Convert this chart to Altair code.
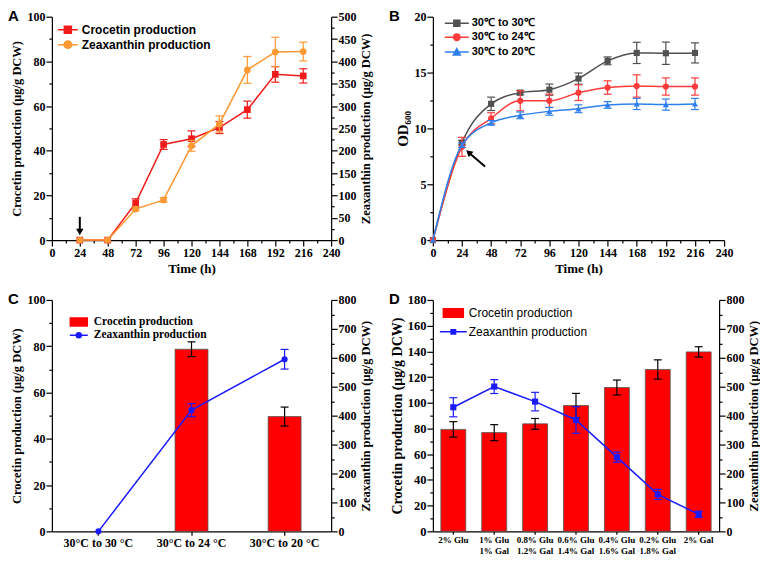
import altair as alt
import pandas as pd

SERIF = "Liberation Serif"
SANS = "Liberation Sans"

# ---------------- Panel A data ----------------
a_time = [24, 48, 72, 96, 120, 144, 168, 192, 216]
a_series = ["Crocetin production", "Zeaxanthin production"]
a_croc = [0, 0, 16.6, 42.8, 45.4, 50.4, 58.4, 74.2, 73.5]
a_croc_err = [0, 0, 1.9, 2.2, 3.5, 2.7, 3.8, 3.5, 3.2]
a_zea = [0, 0, 69.5, 90, 211, 260, 381, 421, 422]
a_zea_err = [0, 0, 4, 5, 12, 18, 30, 33, 21]
a_colors = ["#f01c1c", "#ff9933"]
a_arrow_x = [24]
a_arrow_top = [10.4]
a_arrow_end = [4.6]
a_arrow_head = [3.6]

# ---------------- Panel B data ----------------
b_time = [0, 24, 48, 72, 96, 120, 144, 168, 192, 216]
b_series = ["30℃ to 30℃", "30℃ to 24℃", "30℃ to 20℃"]
b_od30 = [0, 8.72, 12.2, 13.2, 13.47, 14.46, 16.05, 16.76, 16.73, 16.76]
b_od30_err = [0, 0.2, 0.6, 0.2, 0.5, 0.5, 0.35, 0.95, 1.0, 0.9]
b_od24 = [0, 8.35, 10.9, 12.47, 12.47, 13.2, 13.66, 13.8, 13.75, 13.75]
b_od24_err = [0, 0.85, 0.5, 0.9, 0.6, 0.7, 0.6, 1.0, 0.77, 0.77]
b_od20 = [0, 8.5, 10.5, 11.17, 11.53, 11.76, 12.1, 12.19, 12.13, 12.19]
b_od20_err = [0, 0.2, 0.2, 0.3, 0.35, 0.35, 0.3, 0.5, 0.5, 0.5]
b_colors = ["#505050", "#ff3b3b", "#2f80ed"]
b_arrow_x = [43]
b_arrow_y = [6.6]
b_arrow_x2 = [29.5]
b_arrow_y2 = [7.85]

# ---------------- Panel C data ----------------
c_cats = ["30°C to 30 °C", "30°C to 24 °C", "30°C to 20 °C"]
c_series = ["Crocetin production", "Zeaxanthin production"]
c_croc = [0, 78.7, 49.6]
c_croc_err = [0, 3.2, 4.1]
c_zea = [0, 419, 595]
c_zea_err = [0, 22.5, 34]

# ---------------- Panel D data ----------------
d_cats = ["2% Glu", "1% Glu|1% Gal", "0.8% Glu|1.2% Gal", "0.6% Glu|1.4% Gal",
          "0.4% Glu|1.6% Gal", "0.2% Glu|1.8% Gal", "2% Gal"]
d_series = ["Crocetin production", "Zeaxanthin production"]
d_croc = [79.3, 76.8, 83.6, 97.9, 111.9, 125.9, 139.6]
d_croc_err = [6, 6.2, 4.2, 9.4, 5.8, 7.5, 4]
d_zea = [429, 500.5, 448.6, 385, 256.5, 127.7, 58.8]
d_zea_err = [33, 24, 32, 46, 17.5, 17.5, 11]

BAR_RED = "#ff0000"
LINE_BLUE = "#1a1aff"


def line_sq(h, s):
    return f"M-{h},0H{h}M-{s},-{s}H{s}V{s}H-{s}Z"


def line_circ(h, r):
    return f"M-{h},0H{h}M-{r},0A{r},{r} 0 1,0 {r},0A{r},{r} 0 1,0 -{r},0Z"


def line_tri(h, s):
    return f"M-{h},0H{h}M0,-{s}L{s},{s * 0.8}H-{s}Z"


def rect_path(w, h):
    return f"M-{w},-{h}H{w}V{h}H-{w}Z"


def pick(names, vals):
    expr = f"'{vals[-1]}'"
    for n, v in reversed(list(zip(names[:-1], vals[:-1]))):
        expr = f"datum.value === '{n}' ? '{v}' : {expr}"
    return alt.ExprRef(expr=expr)


def make_legend(names, shapes, fills, x, y, font, weight, size, offset, rowpad, sw=1.5):
    return alt.Legend(
        title=None, orient="none", legendX=x, legendY=y, padding=0,
        symbolSize=100, labelFont=font, labelFontWeight=weight, labelFontSize=size,
        labelColor="black", labelOffset=offset, rowPadding=rowpad, labelLimit=400,
        symbolType=pick(names, shapes), symbolFillColor=pick(names, fills),
        symbolStrokeWidth=sw, symbolOpacity=1,
    )


def y_axis(title, top, major, minor, orient="left", title_size=12.5, label_size=12, title_pad=3):
    n = int(round(top / minor))
    vals = [round(i * minor, 3) for i in range(n + 1)]
    kw = dict(title=title, orient=orient, values=vals, tickCount=500, labelOverlap=False, labelFlush=False,
              format="d", labelExpr=f"datum.value % {major} === 0 ? datum.label : ''",
              tickSize={"condition": {"test": f"datum.value % {major} !== 0", "value": 3}, "value": 6},
              titleFontSize=title_size, labelFontSize=label_size, titlePadding=title_pad, labelPadding=1)
    if orient == "right":
        kw.update(titleAngle=270, titleBaseline="top")
    return alt.Axis(**kw)


def time_axis():
    return alt.Axis(title="Time (h)", values=list(range(0, 241, 12)), tickCount=500, labelOverlap=False,
                    labelFlush=False, format="d", labelExpr="datum.value % 24 === 0 ? datum.label : ''",
                    tickSize={"condition": {"test": "datum.value % 24 !== 0", "value": 3}, "value": 6},
                    titleFontSize=13, labelFontSize=12, titlePadding=4, labelPadding=1)


def panel_label(letter, dx, dy):
    return alt.Chart(pd.DataFrame({"lab": [letter]})).mark_text(
        font=SANS, fontWeight="bold", fontSize=15, align="left", baseline="top", color="black"
    ).encode(x=alt.value(dx), y=alt.value(dy), text="lab:N")


def err_layers(base, xenc_fn, ys, color, cap, sw=1.2):
    eb = base.transform_filter(alt.datum.err > 0)
    rule = eb.mark_rule(strokeWidth=sw, color=color).encode(
        x=xenc_fn(), y=alt.Y("lo:Q", scale=ys), y2="hi:Q")
    tlo = eb.mark_tick(orient="horizontal", size=cap, thickness=sw, color=color, opacity=1).encode(
        x=xenc_fn(), y=alt.Y("lo:Q", scale=ys))
    thi = eb.mark_tick(orient="horizontal", size=cap, thickness=sw, color=color, opacity=1).encode(
        x=xenc_fn(), y=alt.Y("hi:Q", scale=ys))
    return [rule, tlo, thi]


# ================= Panel A =================
dfa = pd.DataFrame({
    "time": a_time * 2,
    "value": a_croc + a_zea,
    "err": a_croc_err + a_zea_err,
    "series": [a_series[0]] * len(a_time) + [a_series[1]] * len(a_time),
})
dfa["lo"] = dfa["value"] - dfa["err"]
dfa["hi"] = dfa["value"] + dfa["err"]
leg_a = make_legend(a_series, [line_sq(2, 0.7), line_circ(2, 0.75)], a_colors,
                    10, 7, SANS, "bold", 12, 8, 1)
col_a = alt.Color("series:N", scale=alt.Scale(domain=a_series, range=a_colors), legend=leg_a)
xs_a = alt.Scale(domain=[0, 240], nice=False)


def a_group(idx, top, axis, shape, extra=None):
    name = a_series[idx]
    c = a_colors[idx]
    ys = alt.Scale(domain=[0, top], nice=False)
    base = alt.Chart(dfa).transform_filter(alt.datum.series == name)
    xf = lambda: alt.X("time:Q", scale=xs_a)
    line = base.mark_line(strokeWidth=1.5).encode(
        x=alt.X("time:Q", scale=xs_a, axis=time_axis()),
        y=alt.Y("value:Q", scale=ys, axis=axis), color=col_a)
    layers = [line] + err_layers(base, xf, ys, c, 8)
    pts = base.mark_point(filled=True, shape=shape, size=45, opacity=1, color=c).encode(
        x=xf(), y=alt.Y("value:Q", scale=ys))
    layers.append(pts)
    if extra is not None:
        layers += extra(ys)
    return alt.layer(*layers)


def a_arrow(ys):
    adf = pd.DataFrame({"time": a_arrow_x, "value": a_arrow_top, "value2": a_arrow_end, "head": a_arrow_head})
    r = alt.Chart(adf).mark_rule(strokeWidth=2, color="black").encode(
        x=alt.X("time:Q", scale=xs_a), y=alt.Y("value:Q", scale=ys), y2="value2:Q")
    h = alt.Chart(adf).mark_point(shape="triangle-down", filled=True, size=55, color="black", opacity=1).encode(
        x=alt.X("time:Q", scale=xs_a), y=alt.Y("head:Q", scale=ys))
    return [r, h]


panel_A = alt.layer(
    a_group(0, 100, y_axis("Crocetin production (μg/g DCW)", 100, 20, 10), "square", a_arrow),
    a_group(1, 500, y_axis("Zeaxanthin  production (μg/g DCW)", 500, 50, 25, "right"), "circle"),
    panel_label("A", -44, -8),
).resolve_scale(y="independent").properties(width=280, height=224)

# ================= Panel B =================
dfb = pd.DataFrame({
    "time": b_time * 3,
    "value": b_od30 + b_od24 + b_od20,
    "err": b_od30_err + b_od24_err + b_od20_err,
    "series": [s for s in b_series for _ in b_time],
})
dfb["lo"] = dfb["value"] - dfb["err"]
dfb["hi"] = dfb["value"] + dfb["err"]
leg_b = make_legend(b_series, [line_sq(2.4, 0.6), line_circ(2.4, 0.65), line_tri(2.4, 0.7)],
                    b_colors, 18, 0.5, SANS, "bold", 11, 9, 1)
col_b = alt.Color("series:N", scale=alt.Scale(domain=b_series, range=b_colors), legend=leg_b, sort=b_series)
xs_b = alt.Scale(domain=[0, 240], nice=False)
ys_b = alt.Scale(domain=[0, 20], nice=False)
xb = lambda: alt.X("time:Q", scale=xs_b)

b_layers = []
for i, (s, shp) in enumerate(zip(b_series, ["square", "circle", "triangle-up"])):
    base = alt.Chart(dfb).transform_filter(alt.datum.series == s)
    if i == 0:
        line = base.mark_line(strokeWidth=1.5, interpolate="monotone").encode(
            x=alt.X("time:Q", scale=xs_b, axis=time_axis()),
            y=alt.Y("value:Q", scale=ys_b, axis=y_axis("OD₆₀₀", 20, 5, 2.5, title_size=15)),
            color=col_b)
    else:
        line = base.mark_line(strokeWidth=1.5, interpolate="monotone").encode(
            x=xb(), y=alt.Y("value:Q", scale=ys_b), color=col_b)
    b_layers.append(line)
    b_layers += err_layers(base, xb, ys_b, b_colors[i], 8)
    b_layers.append(base.mark_point(filled=True, shape=shp, size=38, opacity=1, color=b_colors[i]).encode(
        x=xb(), y=alt.Y("value:Q", scale=ys_b)))

bdf_arrow = pd.DataFrame({"time": b_arrow_x, "value": b_arrow_y, "time2": b_arrow_x2, "value2": b_arrow_y2})
b_layers.append(alt.Chart(bdf_arrow).mark_rule(strokeWidth=2, color="black").encode(
    x=xb(), y=alt.Y("value:Q", scale=ys_b), x2="time2:Q", y2="value2:Q"))
b_layers.append(alt.Chart(bdf_arrow).mark_point(shape="triangle-up", angle=312, filled=True, size=55,
                                                color="black", opacity=1).encode(
    x=alt.X("time2:Q", scale=xs_b), y=alt.Y("value2:Q", scale=ys_b)))
b_layers.append(panel_label("B", -44, -8))
panel_B = alt.layer(*b_layers).properties(width=292, height=224)


# ================= Panels C & D =================
def bar_panel(cats, croc, croc_err, zea, zea_err, series, width, height, bar_size, left_top,
              left_major, left_minor, leg, letter, xlabel_size, left_title_size, left_label_size,
              zea_shape, right_title, multiline=False):
    df = pd.DataFrame({"cat": cats * 2, "value": croc + zea, "err": croc_err + zea_err,
                       "series": [series[0]] * len(cats) + [series[1]] * len(cats)})
    df["lo"] = df["value"] - df["err"]
    df["hi"] = df["value"] + df["err"]
    col = alt.Color("series:N", scale=alt.Scale(domain=series, range=[BAR_RED, LINE_BLUE]), legend=leg)
    xs = alt.Scale(domain=cats, paddingInner=0, paddingOuter=0)
    ax_kw = dict(title=None, labelAngle=0, labelFontSize=xlabel_size, tickSize=4, labelPadding=2,
                 labelOverlap=False, labelLimit=300)
    if multiline:
        ax_kw.update(labelExpr="split(datum.label, '|')", labelLineHeight=11.5, tickSize=3, labelPadding=1)
    xf = lambda: alt.X("cat:N", scale=xs, sort=cats)
    ys_l = alt.Scale(domain=[0, left_top], nice=False)
    ys_r = alt.Scale(domain=[0, 800], nice=False)
    cb = alt.Chart(df).transform_filter(alt.datum.series == series[0])
    bars = cb.transform_filter(alt.datum.value > 0).mark_bar(size=bar_size, stroke="#555555", strokeWidth=0.8).encode(
        x=alt.X("cat:N", scale=xs, axis=alt.Axis(**ax_kw), sort=cats),
        y=alt.Y("value:Q", scale=ys_l, axis=y_axis("Crocetin production (μg/g DCW)", left_top, left_major,
                                                    left_minor, title_size=left_title_size,
                                                    label_size=left_label_size)),
        color=col)
    left = alt.layer(bars, *err_layers(cb, xf, ys_l, "black", 8))
    zb = alt.Chart(df).transform_filter(alt.datum.series == series[1])
    zline = zb.mark_line(strokeWidth=1.5).encode(
        x=xf(), y=alt.Y("value:Q", scale=ys_r, axis=y_axis(right_title, 800, 100, 50, "right",
                                                            label_size=12)), color=col)
    zpts = zb.mark_point(filled=True, shape=zea_shape, size=38, opacity=1, color=LINE_BLUE).encode(
        x=xf(), y=alt.Y("value:Q", scale=ys_r))
    right = alt.layer(zline, *err_layers(zb, xf, ys_r, LINE_BLUE, 8), zpts)
    return alt.layer(left, right, panel_label(letter, -44, -8)).resolve_scale(y="independent").properties(
        width=width, height=height)


leg_c = make_legend(c_series, [rect_path(1.7, 0.8), line_circ(1.8, 0.5)], [BAR_RED, LINE_BLUE],
                    21, 16, SERIF, "bold", 11.5, 9, 0.5)
panel_C = bar_panel(c_cats, c_croc, c_croc_err, c_zea, c_zea_err, c_series, 280, 232, 33, 100, 20, 10,
                    leg_c, "C", 12, 12.5, 12, "circle", "Zeaxanthin  production (μg/g DCW)")

leg_d = make_legend(d_series, [rect_path(2.0, 0.85), line_sq(2.7, 0.45)], [BAR_RED, LINE_BLUE],
                    14.5, 7, SANS, "normal", 12, 9.5, 5)
panel_D = bar_panel(d_cats, d_croc, d_croc_err, d_zea, d_zea_err, d_series, 287, 232, 25, 180, 20, 10,
                    leg_d, "D", 9, 14, 12.5, "square", "Zeaxanthin production (μg/g DCW)", multiline=True)

chart = alt.concat(panel_A, panel_B, panel_C, panel_D, columns=2,
                   spacing={"row": 60, "column": 102}, bounds="flush").resolve_scale(
    color="independent", shape="independent").resolve_legend(color="independent").properties(
    padding={"left": 0, "top": 0, "right": 0, "bottom": 0}
).configure_axis(
    labelFont=SERIF, labelFontWeight="bold", titleFont=SERIF, titleFontWeight="bold",
    labelColor="black", titleColor="black", domainColor="black", tickColor="black",
    domainWidth=1.2, tickWidth=1.2, grid=False,
).configure_view(stroke=None)

chart.save("out.html", embed_options={"renderer": "svg", "actions": False})
